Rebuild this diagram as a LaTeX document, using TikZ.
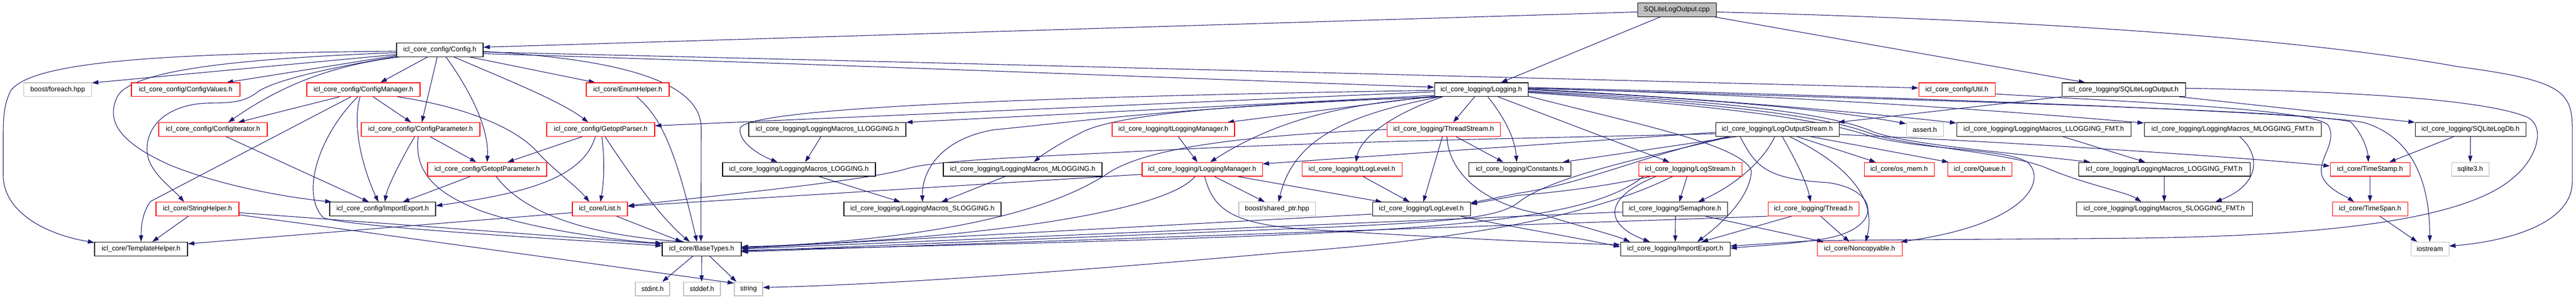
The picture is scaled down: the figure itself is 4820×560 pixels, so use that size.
\documentclass[tikz,border=0pt]{standalone}
\usepackage{fontspec}
\setmainfont{Liberation Sans}
\usetikzlibrary{arrows.meta,calc}
\pgfdeclarelayer{bgl}
\pgfdeclarelayer{edges}
\pgfsetlayers{bgl,edges,main}
\definecolor{edgec}{HTML}{191970}
\definecolor{redb}{HTML}{FF0000}
\definecolor{grayb}{HTML}{BFBFBF}
\newcommand\atB[2]{($(#1.south west)!#2!(#1.south east)$)}
\newcommand\atT[2]{($(#1.north west)!#2!(#1.north east)$)}
\newcommand\atL[2]{($(#1.north west)!#2!(#1.south west)$)}
\newcommand\atR[2]{($(#1.north east)!#2!(#1.south east)$)}
\newcommand\nd[6]{\node[#1,minimum width={(#4-#3)*0.75pt}] (#2) at ({(#3+#4)/2},#5) {#6};}
\begin{document}
\begin{tikzpicture}[x=0.75pt,y=-0.75pt,
  nbase/.style={draw,line width=0.8pt,inner sep=0pt,minimum height=19.35pt,fill=white,text=black,font=\fontsize{9.6}{11}\selectfont},
  nblack/.style={nbase,draw=black},
  nred/.style={nbase,draw=redb},
  ngray/.style={nbase,draw=grayb},
  nroot/.style={nbase,draw=black,fill=grayb},
  edg/.style={draw=edgec,line width=0.8pt,-{Triangle[length=9pt,width=6pt]}}]
\begin{pgfonlayer}{bgl}
\fill[white] (0,0) rectangle (4820,560);
\end{pgfonlayer}
\useasboundingbox (0,0) rectangle (4820,560);
% nodes
\nd{nroot}{cpp}{3064}{3211}{18.4}{SQLiteLogOutput.cpp}
\nd{nblack}{cfg}{742}{904}{93.2}{icl\_core\_config/Config.h}
\nd{ngray}{foreach}{44.5}{171.5}{167.9}{boost/foreach.hpp}
\nd{nred}{cvals}{246}{449}{167.9}{icl\_core\_config/ConfigValues.h}
\nd{nred}{cman}{574}{786}{167.9}{icl\_core\_config/ConfigManager.h}
\nd{nred}{enumh}{1097}{1252}{167.9}{icl\_core/EnumHelper.h}
\nd{nblack}{logging}{2684}{2859}{167.9}{icl\_core\_logging/Logging.h}
\nd{nred}{util}{3590}{3733}{167.9}{icl\_core\_config/Util.h}
\nd{nblack}{sqlout}{3858}{4089}{167.9}{icl\_core\_logging/SQLiteLogOutput.h}
\nd{nred}{citer}{297}{500}{242.5}{icl\_core\_config/ConfigIterator.h}
\nd{nred}{cparam}{676}{898}{242.5}{icl\_core\_config/ConfigParameter.h}
\nd{nred}{gparser}{1023}{1225}{242.5}{icl\_core\_config/GetoptParser.h}
\nd{nblack}{mLL}{1401}{1695}{242.5}{icl\_core\_logging/LoggingMacros\_LLOGGING.h}
\nd{nred}{tlman}{2081}{2310}{242.5}{icl\_core\_logging/tLoggingManager.h}
\nd{nred}{tstream}{2595}{2807}{242.5}{icl\_core\_logging/ThreadStream.h}
\nd{nblack}{los}{3210}{3441}{242.5}{icl\_core\_logging/LogOutputStream.h}
\nd{ngray}{assert}{3567}{3636}{242.5}{assert.h}
\nd{nblack}{mLLF}{3661}{3987}{242.5}{icl\_core\_logging/LoggingMacros\_LLOGGING\_FMT.h}
\nd{nblack}{mMLF}{4012}{4343}{242.5}{icl\_core\_logging/LoggingMacros\_MLOGGING\_FMT.h}
\nd{nblack}{sqldb}{4519}{4726}{242.5}{icl\_core\_logging/SQLiteLogDb.h}
\nd{nred}{gparam}{800}{1023}{317.1}{icl\_core\_config/GetoptParameter.h}
\nd{nblack}{mL}{1352}{1638}{317.1}{icl\_core\_logging/LoggingMacros\_LOGGING.h}
\nd{nblack}{mML}{1765}{2062}{317.1}{icl\_core\_logging/LoggingMacros\_MLOGGING.h}
\nd{nred}{lman}{2137}{2362}{317.1}{icl\_core\_logging/LoggingManager.h}
\nd{nred}{tll}{2436}{2623}{317.1}{icl\_core\_logging/tLogLevel.h}
\nd{nblack}{const}{2748}{2939}{317.1}{icl\_core\_logging/Constants.h}
\nd{nred}{lstream}{3066}{3259}{317.1}{icl\_core\_logging/LogStream.h}
\nd{nred}{osmem}{3488}{3619}{317.1}{icl\_core/os\_mem.h}
\nd{nred}{queue}{3644}{3764}{317.1}{icl\_core/Queue.h}
\nd{nblack}{mLF}{3889}{4210}{317.1}{icl\_core\_logging/LoggingMacros\_LOGGING\_FMT.h}
\nd{nred}{tstamp}{4360}{4509}{317.1}{icl\_core/TimeStamp.h}
\nd{ngray}{sqlite}{4587}{4657}{317.1}{sqlite3.h}
\nd{nred}{strh}{292}{447}{391.6}{icl\_core/StringHelper.h}
\nd{nblack}{ciexp}{617}{815}{391.6}{icl\_core\_config/ImportExport.h}
\nd{nred}{list}{1071}{1174}{391.6}{icl\_core/List.h}
\nd{nblack}{mSL}{1579}{1873}{391.6}{icl\_core\_logging/LoggingMacros\_SLOGGING.h}
\nd{ngray}{sptr}{2318}{2461}{391.6}{boost/shared\_ptr.hpp}
\nd{nblack}{llevel}{2568}{2751}{391.6}{icl\_core\_logging/LogLevel.h}
\nd{nblack}{sem}{3036}{3232}{391.6}{icl\_core\_logging/Semaphore.h}
\nd{nred}{thread}{3308}{3478}{391.6}{icl\_core\_logging/Thread.h}
\nd{nblack}{mSLF}{3885}{4214}{391.6}{icl\_core\_logging/LoggingMacros\_SLOGGING\_FMT.h}
\nd{nred}{tspan}{4364}{4505}{391.6}{icl\_core/TimeSpan.h}
\nd{nblack}{tmpl}{177}{351}{466.3}{icl\_core/TemplateHelper.h}
\nd{nblack}{base}{1239}{1387}{466.3}{icl\_core/BaseTypes.h}
\nd{nblack}{liexp}{3032}{3237}{466.3}{icl\_core\_logging/ImportExport.h}
\nd{nred}{nonc}{3400}{3559}{466.3}{icl\_core/Noncopyable.h}
\nd{ngray}{iostream}{4511}{4582}{466.3}{iostream}
\nd{ngray}{stdint}{1189}{1253}{541.1}{stdint.h}
\nd{ngray}{stddef}{1279}{1348}{541.1}{stddef.h}
\nd{ngray}{string}{1374}{1427}{541.1}{string}
\begin{pgfonlayer}{edges}
% root
\draw[edg] \atL{cpp}{0.65} -- \atR{cfg}{0.32};
\draw[edg] \atB{cpp}{0.29} -- \atT{logging}{0.71};
\draw[edg] \atB{cpp}{0.98} -- \atT{sqlout}{0.19};
\draw[edg] \atR{cpp}{0.65} .. controls (3900,40) and (4350,80) .. (4600,125) .. controls (4790,150) and (4813,170) .. (4813,240) -- (4813,340) .. controls (4813,420) and (4690,452) .. \atR{iostream}{0.3};
% Config.h
\draw[edg] \atL{cfg}{0.83} -- \atR{foreach}{0.03};
\draw[edg] \atL{cfg}{0.9} -- \atT{cvals}{0.875};
\draw[edg] \atB{cfg}{0.36} -- \atT{cman}{0.65};
\draw[edg] \atB{cfg}{0.04} .. controls (640,120) and (540,150) .. \atT{citer}{0.64};
\draw[edg] \atB{cfg}{0.47} -- \atT{cparam}{0.51};
\draw[edg] \atB{cfg}{0.57} .. controls (880,170) and (915,240) .. \atT{gparam}{0.5};
\draw[edg] \atB{cfg}{0.66} .. controls (950,150) and (1050,190) .. \atT{gparser}{0.385};
\draw[edg] \atB{cfg}{0.84} -- \atT{enumh}{0.11};
\draw[edg] \atR{cfg}{0.62} .. controls (1150,110) and (1312,150) .. (1312,240) -- \atT{base}{0.49};
\draw[edg] \atL{cfg}{0.6} .. controls (300,100) and (60,115) .. (20,170) .. controls (5,200) and (6,230) .. (6,270) -- (6,330) .. controls (8,400) and (90,440) .. \atL{tmpl}{0.05};
\draw[edg] \atL{cfg}{0.97} .. controls (600,130) and (520,150) .. (485,170) .. controls (460,190) and (440,193) .. (390,193) .. controls (320,195) and (275,230) .. (275,280) .. controls (275,320) and (320,350) .. \atT{strh}{0.34};
\draw[edg] \atL{cfg}{0.7} .. controls (450,110) and (250,130) .. (220,180) .. controls (195,230) and (230,270) .. (320,310) .. controls (420,350) and (540,370) .. \atT{ciexp}{0.02};
\draw[edg] \atR{cfg}{0.77} .. controls (1600,122) and (2300,150) .. \atL{logging}{0.33};
\draw[edg] \atR{cfg}{0.66} .. controls (1800,118) and (3000,150) .. \atL{util}{0.38};
% ConfigManager.h
\draw[edg] \atB{cman}{0.29} -- \atT{citer}{0.73};
\draw[edg] \atB{cman}{0.39} -- (282,377) .. controls (268,395) and (264,420) .. \atT{tmpl}{0.5};
\draw[edg] \atB{cman}{0.45} .. controls (600,250) and (560,360) .. (605,408) .. controls (660,425) and (1000,445) .. \atL{base}{0.28};
\draw[edg] \atB{cman}{0.47} .. controls (655,250) and (690,340) .. \atT{ciexp}{0.46};
\draw[edg] \atB{cman}{0.585} -- \atT{cparam}{0.42};
\draw[edg] \atB{cman}{0.8} .. controls (870,200) and (970,240) .. (1010,290) .. controls (1050,330) and (1080,350) .. \atT{list}{0.31};
\draw[edg] \atB{citer}{0.62} -- \atT{ciexp}{0.37};
% ConfigParameter.h / GetoptParameter.h / GetoptParser.h
\draw[edg] \atB{cparam}{0.45} .. controls (750,300) and (725,350) .. \atT{ciexp}{0.52};
\draw[edg] \atB{cparam}{0.48} .. controls (775,320) and (810,360) .. (900,395) .. controls (1000,430) and (1150,450) .. \atL{base}{0.1};
\draw[edg] \atB{cparam}{0.58} -- \atT{gparam}{0.41};
\draw[edg] \atB{gparam}{0.36} -- \atT{ciexp}{0.69};
\draw[edg] \atB{gparam}{0.575} .. controls (980,400) and (1100,440) .. \atT{base}{0.28};
\draw[edg] \atB{gparser}{0.33} -- \atT{gparam}{0.67};
\draw[edg] \atB{gparser}{0.45} .. controls (1090,340) and (960,365) .. \atR{ciexp}{0.27};
\draw[edg] \atB{gparser}{0.51} .. controls (1132,300) and (1130,340) .. \atT{list}{0.51};
\draw[edg] \atB{gparser}{0.54} .. controls (1200,360) and (1250,420) .. \atT{base}{0.35};
\draw[edg] \atB{enumh}{0.61} .. controls (1230,215) and (1260,260) .. \atT{base}{0.44};
% StringHelper / List / BaseTypes
\draw[edg] \atB{strh}{0.39} -- \atT{tmpl}{0.62};
\draw[edg] \atR{strh}{0.75} -- \atL{base}{0.15};
\draw[edg] \atR{strh}{0.9} -- \atL{string}{0.1};
\draw[edg] \atL{list}{0.75} -- \atR{tmpl}{0.14};
\draw[edg] \atB{list}{0.8} -- \atT{base}{0.25};
\draw[edg] \atB{base}{0.39} -- \atT{stdint}{0.78};
\draw[edg] \atB{base}{0.5} -- \atT{stddef}{0.49};
\draw[edg] \atB{base}{0.6} -- \atT{string}{0.08};
% Logging.h to the left
\draw[edg] \atL{logging}{0.9} -- (mLL.north east);
\draw[edg] \atL{logging}{0.65} -- \atR{gparser}{0.24};
\draw[edg] \atL{logging}{0.55} .. controls (2000,180) and (1400,200) .. (1385,240) .. controls (1380,265) and (1420,290) .. \atT{mL}{0.36};
\draw[edg] \atB{logging}{0.05} .. controls (2200,200) and (2000,230) .. (1860,243) .. controls (1760,260) and (1725,320) .. \atT{mSL}{0.5};
\draw[edg] \atB{logging}{0.08} .. controls (2300,195) and (2080,215) .. (2020,250) .. controls (1980,270) and (1950,290) .. \atT{mML}{0.57};
\draw[edg] \atL{logging}{0.95} -- \atT{tlman}{0.94};
\draw[edg] \atB{logging}{0.03} .. controls (2500,195) and (2380,230) .. \atT{lman}{0.565};
\draw[edg] \atB{logging}{0.06} .. controls (2520,215) and (2420,260) .. \atT{sptr}{0.52};
\draw[edg] \atB{logging}{0.09} .. controls (2600,215) and (2545,260) .. \atT{tll}{0.54};
\draw[edg] \atB{logging}{0.43} -- \atT{tstream}{0.585};
\draw[edg] \atB{logging}{0.57} .. controls (2815,220) and (2835,260) .. \atT{const}{0.47};
\draw[edg] \atB{logging}{0.68} -- \atT{lstream}{0.3};
% Logging.h to the right
\draw[edg] \atR{logging}{0.95} .. controls (3050,230) and (3260,270) .. (3277,320) .. controls (3275,370) and (3220,420) .. \atT{liexp}{0.7};
\draw[edg] \atR{logging}{0.5} .. controls (3100,180) and (3400,200) .. \atL{assert}{0.1};
\draw[edg] \atR{logging}{0.45} .. controls (3200,185) and (3500,212) .. \atL{mLLF}{0.05};
\draw[edg] \atR{logging}{0.4} .. controls (3400,180) and (3800,212) .. \atL{mMLF}{0.05};
\draw[edg] \atR{logging}{0.6} .. controls (3250,190) and (3430,215) .. (3500,245) .. controls (3560,270) and (3750,285) .. \atT{mLF}{0.07};
\draw[edg] \atR{logging}{0.65} .. controls (3250,195) and (3420,220) .. (3500,250) .. controls (3570,275) and (3760,285) .. (3830,315) .. controls (3900,345) and (3980,360) .. \atT{mSLF}{0.37};
\draw[edg] \atR{logging}{0.7} .. controls (3250,200) and (3410,225) .. (3500,255) .. controls (3600,282) and (3760,278) .. (3795,305) .. controls (3830,340) and (3790,420) .. \atT{nonc}{0.98};
\draw[edg] \atR{logging}{0.4} .. controls (3500,185) and (4300,205) .. (4398,228) .. controls (4420,250) and (4430,280) .. \atT{tstamp}{0.48};
\draw[edg] \atR{logging}{0.35} .. controls (3600,182) and (4350,212) .. (4425,230) .. controls (4520,260) and (4546,350) .. \atT{iostream}{0.5};
% Util.h, SQLiteLogOutput.h, SQLiteLogDb.h, TimeStamp.h, TimeSpan.h
\draw[edg] \atR{util}{0.8} .. controls (4000,192) and (4355,205) .. (4358,238) .. controls (4372,270) and (4335,300) .. (4345,330) .. controls (4355,355) and (4390,368) .. \atT{tspan}{0.29};
\draw[edg] \atB{sqlout}{0.95} -- (sqldb.north west);
\draw[edg] \atB{sqlout}{0.0} -- \atT{los}{0.99};
\draw[edg] \atR{sqlout}{0.4} .. controls (4450,172) and (4660,190) .. (4730,220) .. controls (4765,240) and (4745,300) .. (4700,335) .. controls (4600,420) and (4300,442) .. (4000,446) .. controls (3800,448) and (3500,449) .. (3390,451) -- \atR{liexp}{0.3};
\draw[edg] \atB{sqldb}{0.35} -- \atT{tstamp}{0.74};
\draw[edg] \atB{sqldb}{0.5} -- \atT{sqlite}{0.5};
\draw[edg] \atB{tstamp}{0.5} -- \atT{tspan}{0.5};
\draw[edg] \atB{tspan}{0.63} -- \atT{iostream}{0.17};
% LogOutputStream.h
\draw[edg] \atL{los}{0.7} -- \atR{lman}{0.12};
\draw[edg] \atL{los}{0.8} .. controls (2900,258) and (2500,265) .. (2200,280) .. controls (1900,295) and (1760,300) .. (1700,315) .. controls (1640,335) and (1400,360) .. \atR{list}{0.27};
\draw[edg] \atB{los}{0.17} -- \atT{const}{0.92};
\draw[edg] \atB{los}{0.1} .. controls (3080,290) and (2960,345) .. (2840,362) -- \atR{llevel}{0.08};
\draw[edg] \atB{los}{0.12} .. controls (3100,290) and (2900,330) .. (2840,380) .. controls (2800,410) and (2700,415) .. (2500,425) -- \atR{base}{0.65};
\draw[edg] \atB{los}{0.2} .. controls (3285,310) and (3300,335) .. (3420,342) .. controls (3515,355) and (3525,425) .. (3420,446) .. controls (3350,458) and (3290,460) .. \atR{liexp}{0.45};
\draw[edg] \atB{los}{0.48} .. controls (3300,300) and (3250,345) .. \atT{sem}{0.72};
\draw[edg] \atB{los}{0.54} .. controls (3360,300) and (3380,340) .. \atT{thread}{0.47};
\draw[edg] \atB{los}{0.6} .. controls (3470,315) and (3510,380) .. \atT{nonc}{0.57};
\draw[edg] \atB{los}{0.66} -- \atT{osmem}{0.17};
\draw[edg] \atB{los}{0.77} -- \atT{queue}{0.02};
\draw[edg] \atR{los}{0.85} .. controls (3800,268) and (4200,295) .. \atL{tstamp}{0.27};
% LogStream.h
\draw[edg] \atB{lstream}{0.47} -- \atT{sem}{0.54};
\draw[edg] \atB{lstream}{0.17} .. controls (3000,370) and (3000,420) .. \atT{liexp}{0.27};
\draw[edg] \atB{lstream}{0.12} .. controls (3020,345) and (2940,358) .. (2840,366) -- \atR{llevel}{0.15};
\draw[edg] \atB{lstream}{0.05} .. controls (2950,430) and (2600,440) .. \atR{base}{0.6};
\draw[edg] \atB{lstream}{0.33} .. controls (2950,420) and (2650,455) .. (2400,473) .. controls (2100,500) and (1700,532) .. \atR{string}{0.4};
% Semaphore.h / Thread.h
\draw[edg] \atB{sem}{0.505} -- \atT{liexp}{0.5};
\draw[edg] \atB{sem}{0.79} -- \atT{nonc}{0.08};
\draw[edg] \atL{sem}{0.7} -- \atR{base}{0.5};
\draw[edg] \atB{thread}{0.26} -- \atT{liexp}{0.74};
\draw[edg] \atB{thread}{0.58} -- \atT{nonc}{0.38};
\draw[edg] \atB{thread}{0.0} -- \atR{base}{0.7};
% ThreadStream.h, tLoggingManager.h, tLogLevel.h
\draw[edg] \atL{tstream}{0.5} .. controls (2300,255) and (2150,280) .. (2080,320) .. controls (1950,410) and (1700,450) .. \atR{base}{0.4};
\draw[edg] \atB{tstream}{0.61} -- \atT{const}{0.34};
\draw[edg] \atB{tstream}{0.49} -- \atT{llevel}{0.52};
\draw[edg] \atB{tstream}{0.53} .. controls (2710,320) and (2770,380) .. (2880,400) .. controls (2960,425) and (3020,440) .. \atT{liexp}{0.09};
\draw[edg] \atB{tlman}{0.54} -- \atT{lman}{0.46};
\draw[edg] \atB{tll}{0.61} -- \atT{llevel}{0.38};
% LoggingManager.h / LogLevel.h
\draw[edg] \atB{lman}{0.6} -- \atT{sptr}{0.34};
\draw[edg] \atL{lman}{0.85} -- \atR{list}{0.3};
\draw[edg] \atB{lman}{0.79} -- \atT{llevel}{0.1};
\draw[edg] \atB{lman}{0.44} .. controls (2180,400) and (1800,450) .. \atR{base}{0.35};
\draw[edg] \atB{lman}{0.52} .. controls (2270,390) and (2300,420) .. (2450,430) .. controls (2700,445) and (2900,455) .. \atL{liexp}{0.2};
\draw[edg] \atL{llevel}{0.85} -- \atR{base}{0.45};
\draw[edg] \atB{llevel}{0.9} .. controls (2800,420) and (2950,445) .. \atL{liexp}{0.35};
% logging macros
\draw[edg] \atB{mLL}{0.46} -- \atT{mL}{0.54};
\draw[edg] \atB{mL}{0.63} -- \atT{mSL}{0.36};
\draw[edg] \atB{mML}{0.39} -- \atT{mSL}{0.62};
\draw[edg] \atB{mLLF}{0.61} -- \atT{mLF}{0.39};
\draw[edg] \atB{mLF}{0.5} -- \atT{mSLF}{0.5};
\draw[edg] \atB{mMLF}{0.54} .. controls (4230,290) and (4230,345) .. \atT{mSLF}{0.79};
\end{pgfonlayer}
\end{tikzpicture}
\end{document}
